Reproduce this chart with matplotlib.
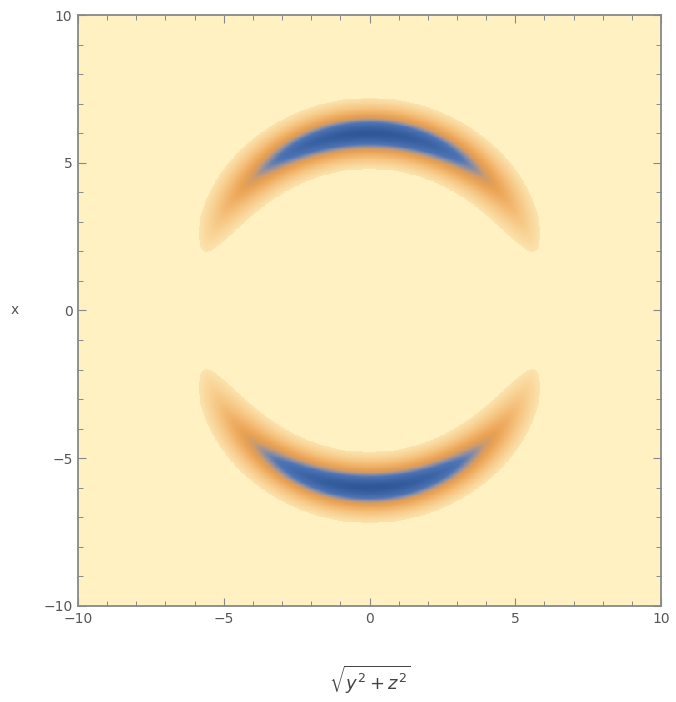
import numpy as np
import matplotlib
matplotlib.use("Agg")
import matplotlib.pyplot as plt
from matplotlib.colors import LinearSegmentedColormap

# shape parameters
ring_radius = 6.0      # radius of the blue ridge
ring_width = 0.876     # radial scale of the ridge
ring_power = 1.6       # sharpness of the radial profile
cut_level = 0.19       # below this the plot shows background colour
ang_power = 1.5        # cos^n angular fall-off from the x axis

# colour stops (value, colour)
stop_vals = [0.0, 0.25, 0.47, 0.57, 0.65, 0.74, 1.0]
stop_cols = ["#fce3ad", "#f5c17c", "#eaa253", "#cf9b69", "#8e8fa4", "#4d74b5", "#2f5898"]
bg_col = "#fff1c1"

s = np.linspace(-10, 10, 700)
xv = np.linspace(-10, 10, 700)
S, X = np.meshgrid(s, xv)
R = np.sqrt(S**2 + X**2)
cos_t = np.divide(X, R, out=np.zeros_like(R), where=R > 0)
dens = np.exp(-(np.abs(R - ring_radius) / ring_width)**ring_power) * np.abs(cos_t)**ang_power

cmap = LinearSegmentedColormap.from_list("m10", list(zip(stop_vals, stop_cols)))
cmap.set_under(bg_col)

fig = plt.figure(figsize=(6.76, 7.02), dpi=100)
ax = fig.add_axes([0.1154, 0.1368, 0.8624, 0.8418])
ax.imshow(dens, extent=[-10, 10, -10, 10], origin="lower", cmap=cmap,
          vmin=cut_level, vmax=dens.max(), interpolation="nearest", aspect="auto")

ax.set_xlim(-10, 10)
ax.set_ylim(-10, 10)
ax.set_xticks([-10, -5, 0, 5, 10])
ax.set_yticks([-10, -5, 0, 5, 10])
ax.set_xticks(np.arange(-9, 10, 1), minor=True)
ax.set_yticks(np.arange(-9, 10, 1), minor=True)
ax.set_xticklabels(["\u221210", "\u22125", "0", "5", "10"])
ax.set_yticklabels(["\u221210", "\u22125", "0", "5", "10"])
ax.tick_params(which="both", direction="in", top=True, right=True, color="#888888")
ax.tick_params(which="major", length=6, width=0.8, labelsize=10, labelcolor="#555555", pad=4)
ax.tick_params(which="minor", length=3.5, width=0.7)
for sp in ax.spines.values():
    sp.set_color("#888888")
    sp.set_linewidth(1.3)

ax.set_ylabel("x", rotation=0, fontsize=10, color="#555555", va="center", ha="center")
ax.yaxis.set_label_coords(-0.108, 0.5)
ax.set_xlabel(r"$\sqrt{y^2+z^2}$", fontsize=13, color="#444444")
ax.xaxis.set_label_coords(0.5, -0.098)

fig.savefig("out.png", dpi=100)
